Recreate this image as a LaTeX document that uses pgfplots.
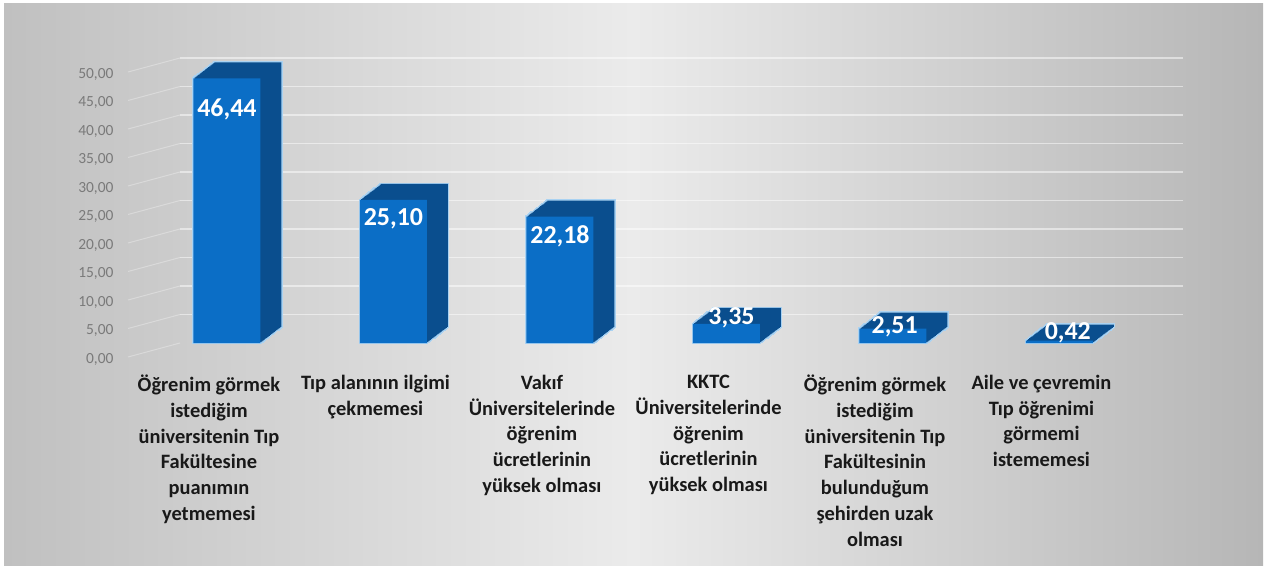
\documentclass[border=0pt]{standalone}
\usepackage{fontspec}
\setmainfont{Carlito}
\usepackage{pgfplots}
\usepackage{pgfplotstable}
\pgfplotsset{compat=1.18}
\definecolor{barfront}{HTML}{0B6EC6}
\definecolor{barside}{HTML}{0A4E8E}
\definecolor{barglow}{HTML}{A9D2F2}
\definecolor{ticktext}{HTML}{7A7A7A}
\definecolor{bgleft}{HTML}{C0C0C0}
\definecolor{bgmid}{HTML}{EBEBEB}
\definecolor{bgright}{HTML}{B6B6B6}

% share of answers, %
\pgfplotstableread{
x y
0 46.44
1 25.10
2 22.18
3 3.35
4 2.51
5 0.42
}\bardata

\begin{document}
\begin{tikzpicture}
\useasboundingbox (0bp,0bp) rectangle (1267bp,570bp);
\shade[left color=bgleft, right color=bgright, middle color=bgmid] (4bp,4bp) rectangle (1263bp,566bp);
% faint lines on the side wall
\foreach \v in {0,5,...,50} {
  \draw[white, opacity=.3, line width=1bp] (128bp,{(213+5.7*\v)*1bp}) -- (180bp,{(227+5.7*\v)*1bp});
}
\begin{axis}[
    at={(180bp,227bp)}, anchor=south west, scale only axis,
    width=1003bp, height=285bp,
    xmin=-0.282, xmax=5.742, ymin=0, ymax=50,
    clip=false,
    axis line style={draw=none},
    major tick length=0pt,
    ytick={0,5,...,50},
    yticklabel={\pgfmathprintnumber[fixed,fixed zerofill,precision=2,use comma,assume math mode=true]{\tick}},
    yticklabel style={font=\fontsize{15.5}{18}\selectfont, text=ticktext, anchor=east, xshift=-63bp, yshift=-16bp},
    xtick={0,...,5},
    xticklabels={
      {Öğrenim görmek\\istediğim\\üniversitenin Tıp\\Fakültesine\\puanımın\\yetmemesi},
      {Tıp alanının ilgimi\\çekmemesi},
      {Vakıf\\Üniversitelerinde\\öğrenim\\ücretlerinin\\yüksek olması},
      {KKTC\\Üniversitelerinde\\öğrenim\\ücretlerinin\\yüksek olması},
      {Öğrenim görmek\\istediğim\\üniversitenin Tıp\\Fakültesinin\\bulunduğum\\şehirden uzak\\olması},
      {Aile ve çevremin\\Tıp öğrenimi\\görmemi\\istememesi}},
    xticklabel style={font=\bfseries\fontsize{20.5}{25.8}\selectfont, align=center, anchor=north,
      inner sep=0pt, xshift=-18bp, yshift=-32bp, text=black!90, execute at begin node=\strut},
    bar3d/.style={ybar, bar width=67bp, bar shift=0pt, forget plot},
]
% back wall grid lines (none at zero)
\pgfplotsinvokeforeach{5,10,...,50}{
  \draw[white, opacity=.5, line width=1.2bp] (axis cs:-0.282,#1) -- (axis cs:5.742,#1);
}
% light rim round each column
\pgfplotsinvokeforeach{0,...,20}{
  \addplot[bar3d, fill=barglow, draw=barglow, line width=2.5bp, xshift=#1*1.05bp, yshift=#1*0.8bp]
    table[x=x,y=y]{\bardata};
}
% top and side faces
\pgfplotsinvokeforeach{1,...,20}{
  \addplot[bar3d, fill=barside, draw=none, xshift=#1*1.05bp, yshift=#1*0.8bp]
    table[x=x,y=y]{\bardata};
}
% front faces
\addplot[bar3d, fill=barfront, draw=none] table[x=x,y=y]{\bardata};
% value labels
\addplot[sharp plot, draw=none, mark=none, nodes near coords, point meta=explicit symbolic,
    nodes near coords style={anchor=base, text=white, font=\bfseries\fontsize{26}{30}\selectfont}]
  coordinates {(0,39.65)[46,44] (1,20.53)[25,10] (2,17.37)[22,18]
               (3.03,3.16)[3,35] (4.01,1.75)[2,51] (5.05,0.53)[0,42]};
\end{axis}
\end{tikzpicture}
\end{document}
